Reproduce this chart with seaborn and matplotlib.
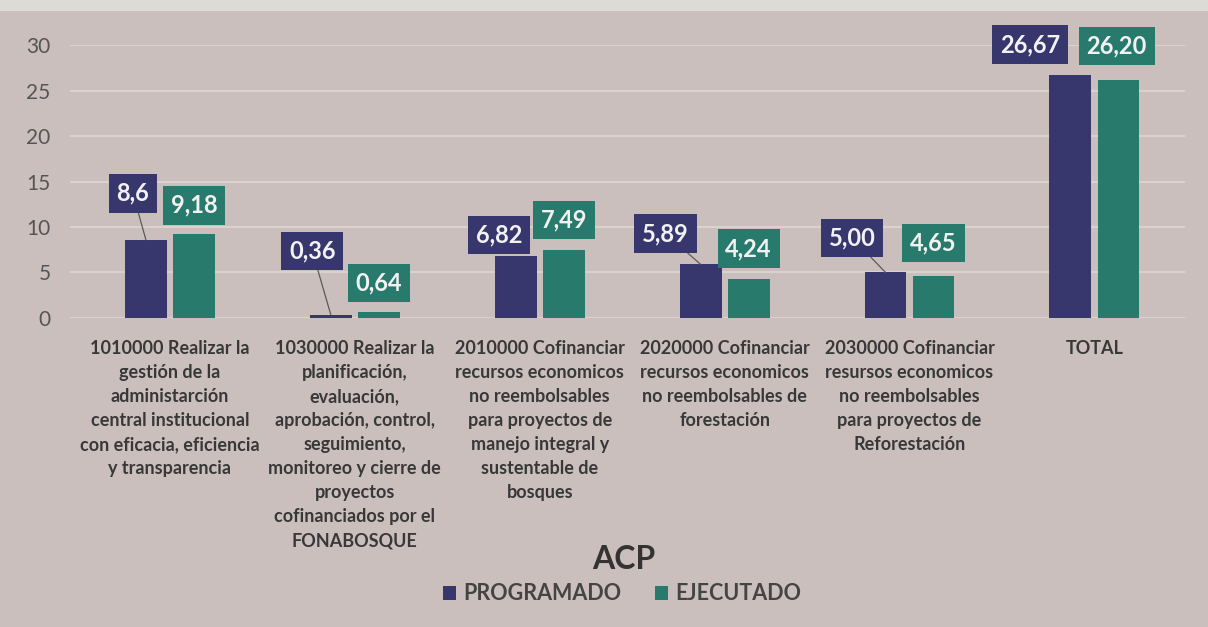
import pandas as pd
import matplotlib.pyplot as plt
import seaborn as sns
from matplotlib.patches import Rectangle

categorias = [
    "1010000 Realizar la\ngestión de la\nadministarción\ncentral institucional\ncon eficacia, eficiencia\ny transparencia",
    "1030000 Realizar la\nplanificación,\nevaluación,\naprobación, control,\nseguimiento,\nmonitoreo y cierre de\nproyectos\ncofinanciados por el\nFONABOSQUE",
    "2010000 Cofinanciar\nrecursos economicos\nno reembolsables\npara proyectos de\nmanejo integral y\nsustentable de\nbosques",
    "2020000 Cofinanciar\nrecursos economicos\nno reembolsables de\nforestación",
    "2030000 Cofinanciar\nresursos economicos\nno reembolsables\npara proyectos de\nReforestación",
    "TOTAL",
]
programado = [8.6, 0.36, 6.82, 5.89, 5.00, 26.67]
ejecutado = [9.18, 0.64, 7.49, 4.24, 4.65, 26.20]
etiq_prog = ["8,6", "0,36", "6,82", "5,89", "5,00", "26,67"]
etiq_ejec = ["9,18", "0,64", "7,49", "4,24", "4,65", "26,20"]
series = ["PROGRAMADO", "EJECUTADO"]

# callout placement (offsets from bar top, data units)
prog_dx = [-0.07, -0.10, -0.09, -0.19, -0.18, -0.22]
prog_dy = [5.1, 7.0, 2.3, 3.4, 3.8, 3.4]
prog_leader = [True, True, False, True, True, False]
ejec_dx = [0, 0, 0, 0, 0, -0.01]
ejec_dy = [3.2, 3.2, 3.3, 3.4, 3.6, 3.7]

colores = {"PROGRAMADO": "#37366d", "EJECUTADO": "#287b6c"}
fondo = "#cabfbc"

df = pd.DataFrame({
    "cat": categorias * 2,
    "serie": [series[0]] * 6 + [series[1]] * 6,
    "valor": programado + ejecutado,
})

sns.set_style("white")
plt.rcParams["font.family"] = ["Lato", "DejaVu Sans"]

fig, ax = plt.subplots(figsize=(12.08, 6.27), dpi=100)
fig.patch.set_facecolor(fondo)
ax.set_facecolor(fondo)
fig.subplots_adjust(left=0.058, right=0.981, top=0.928, bottom=0.493)
# lighter strip at the very top (screen edge)
fig.patches.append(Rectangle((0, 0.982), 1, 0.018, transform=fig.transFigure,
                             fc="#dcdbd6", ec="none", zorder=0))

sns.barplot(data=df, x="cat", y="valor", hue="serie", hue_order=series,
            palette=colores, width=0.52, gap=0.13, saturation=1,
            linewidth=0, legend=True, ax=ax)

ax.set_ylim(0, 30)
ax.set_xlim(-0.54, 5.49)
ax.set_yticks(range(0, 31, 5))
ax.yaxis.grid(True, color="#ddd5d2", lw=1.3)
ax.set_axisbelow(True)
for s in ax.spines.values():
    s.set_visible(False)
ax.tick_params(axis="y", length=0, pad=14, labelsize=15, labelcolor="#555555")
ax.tick_params(axis="x", length=0, pad=16)
ax.set_xticks(range(len(categorias)))
ax.set_xticklabels(categorias, fontsize=13, fontweight="bold", color="#383838",
                   linespacing=1.5, va="top")
ax.set_xlabel("")
ax.set_ylabel("")

# callouts
cont_p, cont_e = ax.containers[0], ax.containers[1]
for i, (bp, be) in enumerate(zip(cont_p, cont_e)):
    xp = bp.get_x() + bp.get_width() / 2
    xe = be.get_x() + be.get_width() / 2
    arrow = dict(arrowstyle="-", color="#5a5a5a", lw=0.9, shrinkA=0, shrinkB=0) if prog_leader[i] else None
    ax.annotate(etiq_prog[i], xy=(xp, programado[i]),
                xytext=(xp + prog_dx[i], programado[i] + prog_dy[i]),
                ha="center", va="center", fontsize=17, fontweight="bold", color="#f2f2f2",
                bbox=dict(boxstyle="square,pad=0.33", fc=colores["PROGRAMADO"], ec="none"),
                arrowprops=arrow, annotation_clip=False, zorder=5)
    ax.annotate(etiq_ejec[i], xy=(xe, ejecutado[i]),
                xytext=(xe + ejec_dx[i], ejecutado[i] + ejec_dy[i]),
                ha="center", va="center", fontsize=17, fontweight="bold", color="#f2f2f2",
                bbox=dict(boxstyle="square,pad=0.33", fc=colores["EJECUTADO"], ec="none"),
                annotation_clip=False, zorder=5)

handles, labels = ax.get_legend_handles_labels()
ax.get_legend().remove()
fig.text(0.516, 0.107, "ACP", ha="center", va="center", fontsize=23,
         fontweight="bold", color="#333333")
fig.legend(handles, labels, loc="center", bbox_to_anchor=(0.515, 0.053), ncol=2,
           frameon=False, handlelength=0.6, handleheight=0.6, handletextpad=0.3,
           columnspacing=1.6, prop={"size": 15.5, "weight": "bold"}, labelcolor="#444444")

plt.savefig("out.png", dpi=100, facecolor=fondo)
